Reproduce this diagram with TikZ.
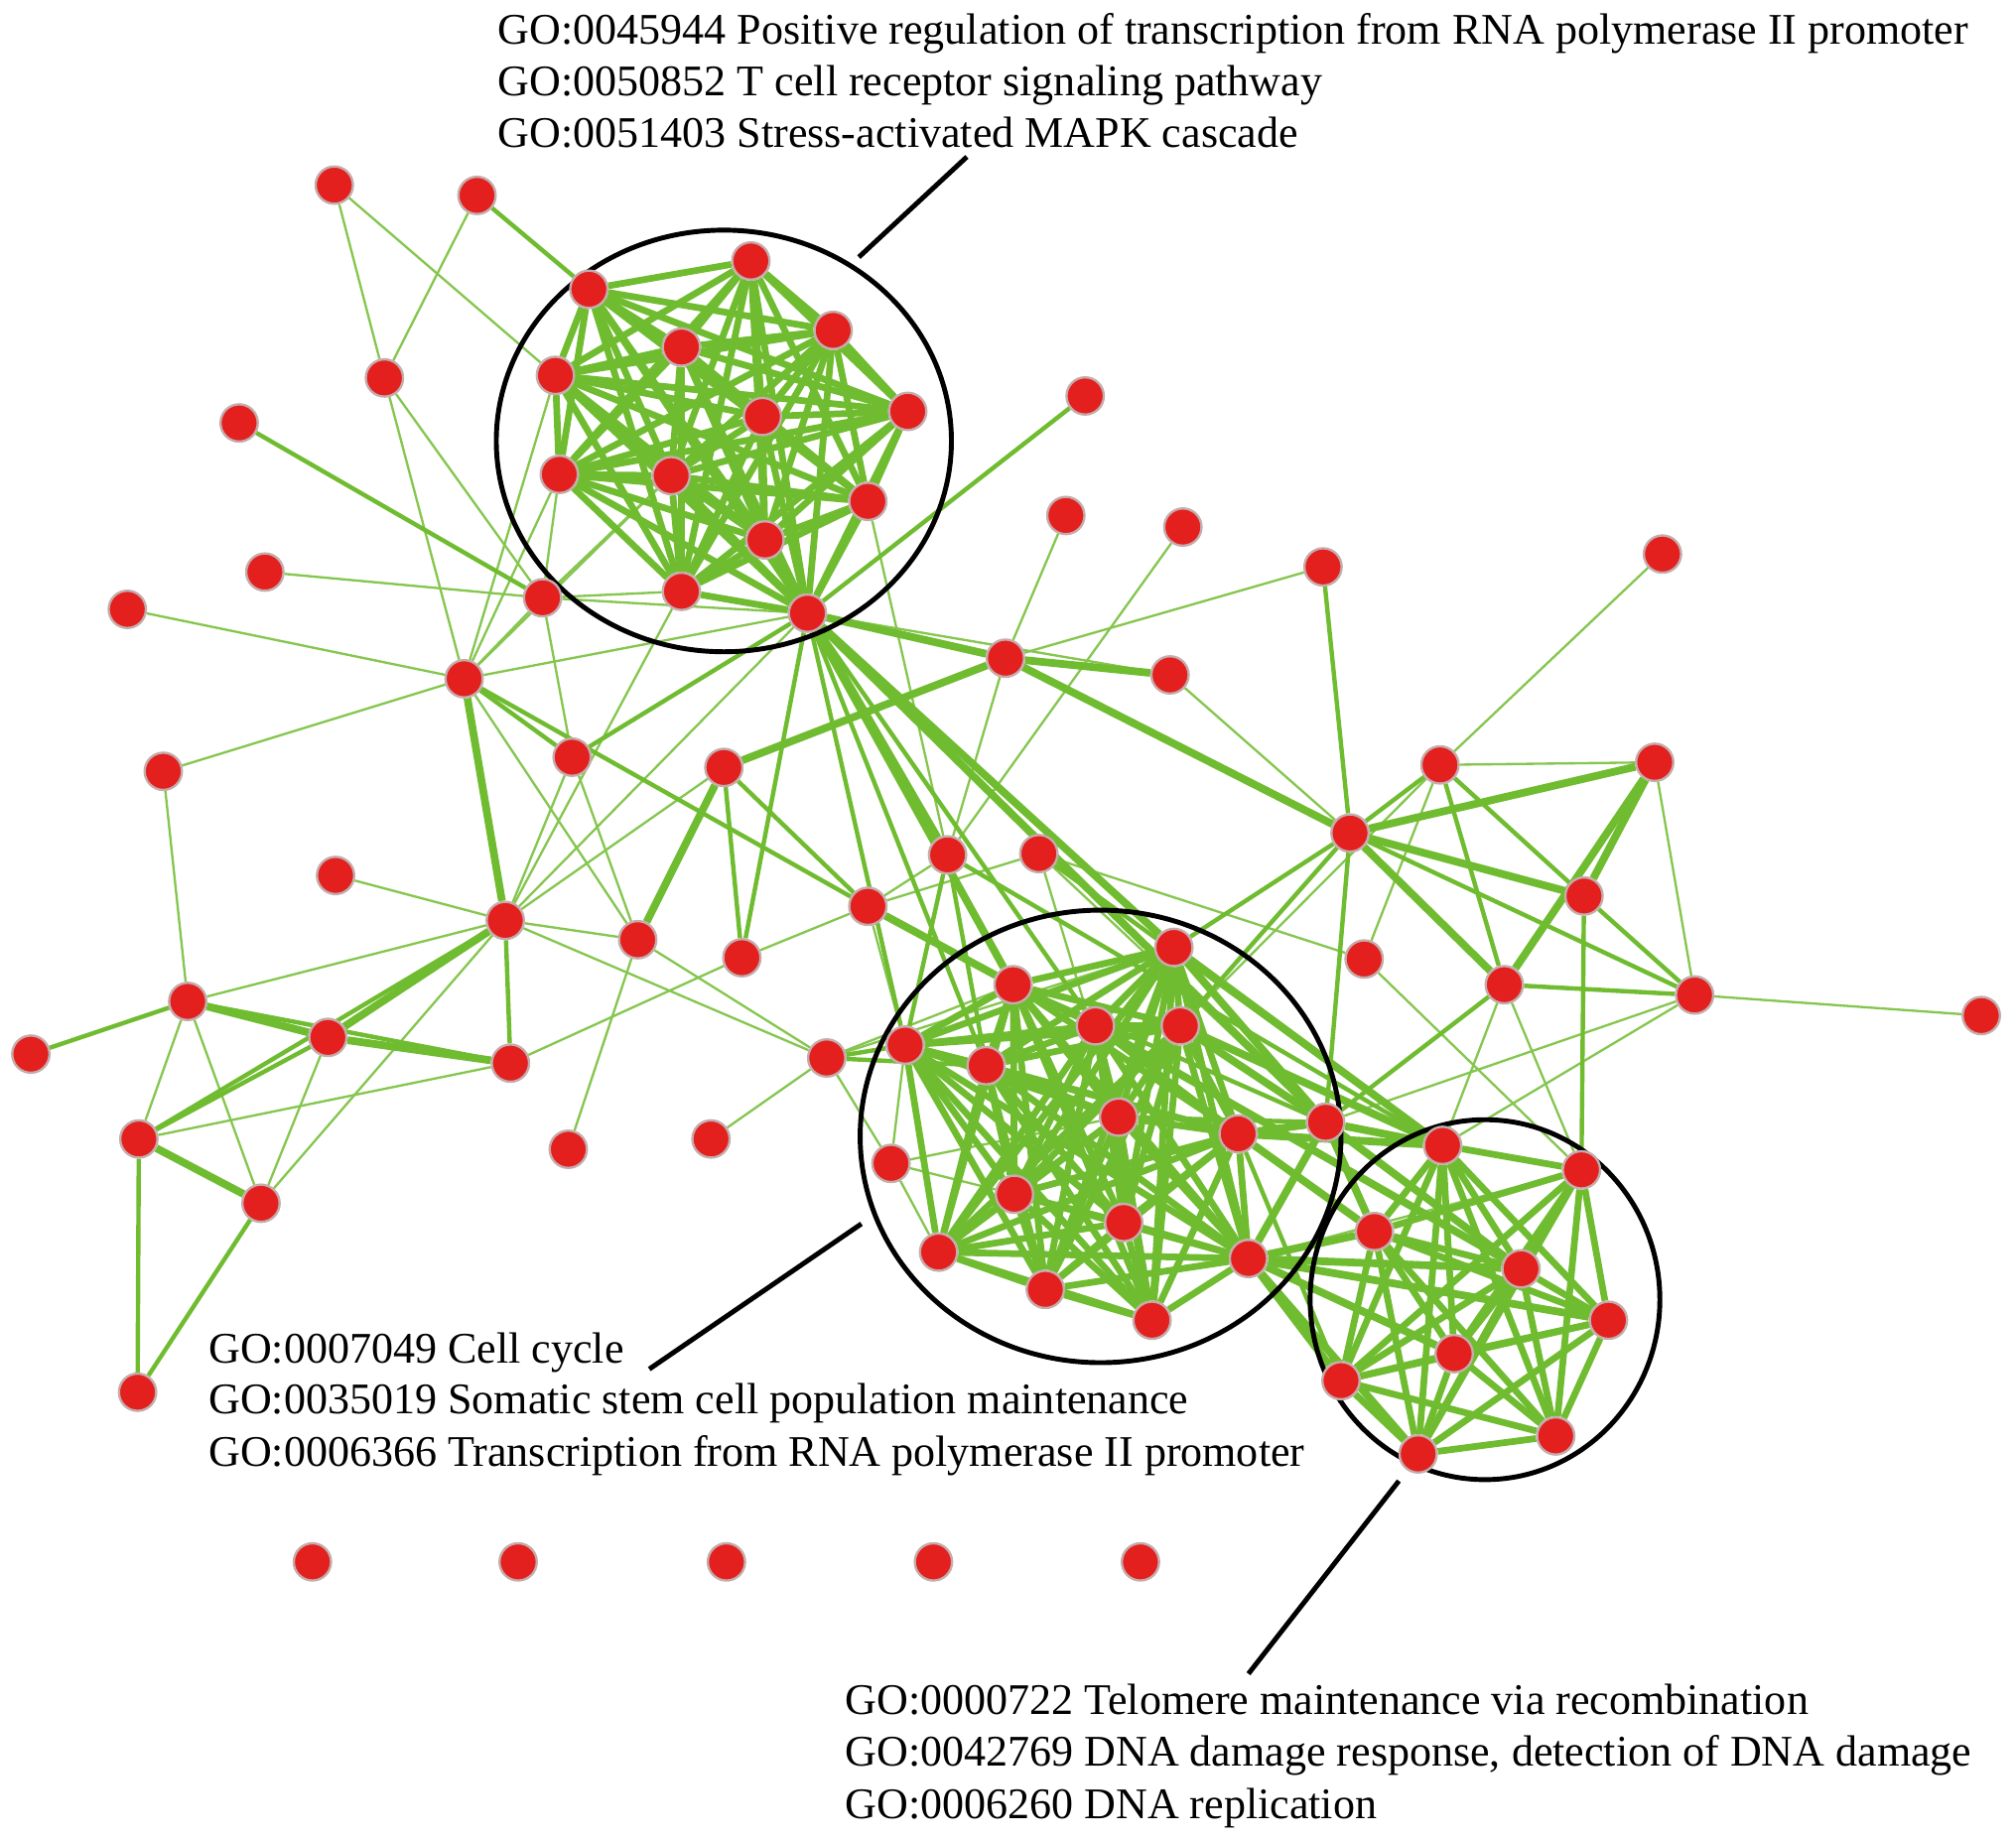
\documentclass[tikz,border=0pt]{standalone}
\usepackage{fontspec}
\setmainfont{Liberation Serif}

\definecolor{genered}{RGB}{228,32,30}
\definecolor{generim}{RGB}{196,172,172}
\definecolor{linkgreen}{RGB}{112,188,48}

\pgfdeclarelayer{links}
\pgfdeclarelayer{rings}
\pgfsetlayers{links,rings,main}

\tikzset{every picture/.style={line width=0.75pt}}
\tikzset{
  gene/.style={circle, fill=genered, draw=generim, line width=0.9pt, minimum size=14.5pt, inner sep=0pt},
  thin link/.style={draw=linkgreen!85, line width=0.9pt},
  mid link/.style={draw=linkgreen, line width=1.7pt},
  thick link/.style={draw=linkgreen, line width=3pt},
  core link/.style={draw=linkgreen, line width=2.6pt},
  ring/.style={draw=black, line width=1.9pt},
  golabel/.style={anchor=base west, inner sep=0pt, font=\fontsize{17}{20}\selectfont},
}

\def\clusterA{a1,a2,a3,a4,a5,a6,a7,a8,a9,a10,a11,a12,a13}
\def\clusterB{n43,n45,n54,n55,n56,n57,n58,n59,n68,n69,n71,n72,n74,n75}
\def\clusterC{n65,n66,n70,n73,n76,n77,n78,n80,n81}

\begin{document}
\begin{tikzpicture}[x=0.5pt,y=0.5pt,yscale=-1,xscale=1]
  \useasboundingbox (0,0) rectangle (1568,1431);

  %Genes, upper left
  \node[gene] (p1) at (260,144) {};
  \node[gene] (p2) at (371,152) {};
  \node[gene] (p3) at (299,294) {};
  \node[gene] (p4) at (186,329) {};
  \node[gene] (p5) at (206,445) {};
  \node[gene] (p6) at (99,474) {};
  \node[gene] (p7) at (422,465) {};
  \node[gene] (p8) at (361,528) {};
  %Genes, upper cluster
  \node[gene] (a1) at (458,225) {};
  \node[gene] (a2) at (584,203) {};
  \node[gene] (a3) at (648,257) {};
  \node[gene] (a4) at (530,270) {};
  \node[gene] (a5) at (432,292) {};
  \node[gene] (a6) at (593,324) {};
  \node[gene] (a7) at (706,320) {};
  \node[gene] (a8) at (435,369) {};
  \node[gene] (a9) at (522,370) {};
  \node[gene] (a10) at (675,390) {};
  \node[gene] (a11) at (595,420) {};
  \node[gene] (a12) at (530,460) {};
  \node[gene] (a13) at (628,477) {};
  %Genes, the rest
  \node[gene] (n12) at (844,308) {};
  \node[gene] (n17) at (829,401) {};
  \node[gene] (n18) at (920,410) {};
  \node[gene] (n19) at (1029,441) {};
  \node[gene] (n20) at (1293,431) {};
  \node[gene] (n26) at (782,512) {};
  \node[gene] (n27) at (910,525) {};
  \node[gene] (n29) at (445,589) {};
  \node[gene] (n30) at (563,597) {};
  \node[gene] (n31) at (127,600) {};
  \node[gene] (n32) at (1120,595) {};
  \node[gene] (n33) at (1287,593) {};
  \node[gene] (n34) at (1050,648) {};
  \node[gene] (n35) at (737,665) {};
  \node[gene] (n36) at (808,664) {};
  \node[gene] (n37) at (261,681) {};
  \node[gene] (n38) at (675,705) {};
  \node[gene] (n39) at (1232,697) {};
  \node[gene] (n40) at (393,716) {};
  \node[gene] (n41) at (496,731) {};
  \node[gene] (n42) at (577,745) {};
  \node[gene] (n43) at (913,737) {};
  \node[gene] (n44) at (1061,746) {};
  \node[gene] (n45) at (788,766) {};
  \node[gene] (n46) at (1170,766) {};
  \node[gene] (n47) at (1318,774) {};
  \node[gene] (n48) at (1541,790) {};
  \node[gene] (n49) at (146,779) {};
  \node[gene] (n50) at (24,820) {};
  \node[gene] (n51) at (255,807) {};
  \node[gene] (n52) at (397,827) {};
  \node[gene] (n53) at (643,823) {};
  \node[gene] (n54) at (704,813) {};
  \node[gene] (n55) at (767,829) {};
  \node[gene] (n56) at (852,798) {};
  \node[gene] (n57) at (918,798) {};
  \node[gene] (n58) at (870,869) {};
  \node[gene] (n59) at (963,882) {};
  \node[gene] (n60) at (1031,873) {};
  \node[gene] (n61) at (108,886) {};
  \node[gene] (n62) at (442,894) {};
  \node[gene] (n63) at (553,886) {};
  \node[gene] (n64) at (693,905) {};
  \node[gene] (n65) at (1122,891) {};
  \node[gene] (n66) at (1230,910) {};
  \node[gene] (n67) at (203,936) {};
  \node[gene] (n68) at (789,929) {};
  \node[gene] (n69) at (874,951) {};
  \node[gene] (n70) at (1069,958) {};
  \node[gene] (n71) at (730,974) {};
  \node[gene] (n72) at (971,979) {};
  \node[gene] (n73) at (1183,987) {};
  \node[gene] (n74) at (813,1003) {};
  \node[gene] (n75) at (896,1027) {};
  \node[gene] (n76) at (1251,1027) {};
  \node[gene] (n77) at (1131,1053) {};
  \node[gene] (n78) at (1043,1074) {};
  \node[gene] (n79) at (107,1083) {};
  \node[gene] (n80) at (1210,1117) {};
  \node[gene] (n81) at (1103,1131) {};
  %Unlinked genes
  \foreach \k/\xx in {1/243,2/403,3/565,4/726,5/887}
    \node[gene] (s\k) at (\xx,1215) {};

  \begin{pgfonlayer}{links}
    %thin links
    \foreach \u/\v in {p1/p3,p1/a5,p2/p3,p3/p7,p3/p8,p5/p7,p6/p8,a5/p8,a8/p8,a8/p7,p7/a12,p7/a9,p7/a13,p7/n29,p7/p8,
      p8/n31,p8/n41,p8/a9,p8/a13,n31/n49,n37/n40,n40/n49,n40/n67,n40/n29,n40/n41,n40/n30,n40/n53,n40/a13,n40/a12,
      n49/n61,n49/n67,n51/n67,n61/n52,n62/n41,n63/n53,n41/n53,n42/n52,n29/n41,
      n38/n35,n38/n36,n38/n42,n38/n54,n35/n18,n35/n26,n35/a10,n36/n58,n36/n44,n36/n60,
      n17/n26,n19/n26,n20/n32,n27/n34,a13/n27,n32/n33,n32/n44,n32/n57,n33/n47,n47/n48,n47/n65,n47/n60,
      n44/n66,n46/n66,n46/n65,n64/n54,n64/n71,n64/n53,n64/n68,n64/n58,n53/n43,n53/n45,n66/n72}
      \draw[thin link] (\u) -- (\v);
    %medium links
    \foreach \u/\v in {p2/a1,p4/p7,p8/n38,p8/n29,n49/n50,n49/n52,n40/n61,n40/n52,n61/n51,n61/n79,n67/n79,
      n12/a13,n19/n34,n32/n34,n32/n39,n32/n46,n34/n47,n34/n43,n34/n57,n34/n60,n39/n47,n39/n66,n46/n47,n46/n60,
      n29/a13,a13/n42,a13/n54,a13/n55,a13/n56,n30/n42,n30/n38,n53/n54,n53/n55,n36/n65,n35/n65,n35/n54,n35/n55,
      n59/n78,n60/n45,n60/n58}
      \draw[mid link] (\u) -- (\v);
    %heavy links
    \foreach \u/\v in {p8/n40,n40/n51,n49/n51,n51/n52,n61/n67,n41/n30,a13/n26,n26/n27,n26/n30,n26/n34,
      a13/n35,a13/n45,a13/n43,a13/n60,n34/n33,n34/n39,n34/n46,n33/n46,n33/n39,n38/n45,
      n72/n78,n72/n81,n72/n73,n72/n76,n72/n70,n72/n77,n60/n65,n60/n73,n60/n70,n59/n65,n59/n70,
      n57/n65,n43/n65,n56/n73,n60/n43,n60/n57,n60/n59,n60/n72}
      \draw[thick link] (\u) -- (\v);
    %clusters, every pair linked
    \foreach \x [count=\i] in \clusterA {
      \foreach \y [count=\j] in \clusterA {
        \ifnum\j>\i \draw[core link] (\x) -- (\y); \fi
      }
    }
    \foreach \x [count=\i] in \clusterB {
      \foreach \y [count=\j] in \clusterB {
        \ifnum\j>\i \draw[core link] (\x) -- (\y); \fi
      }
    }
    \foreach \x [count=\i] in \clusterC {
      \foreach \y [count=\j] in \clusterC {
        \ifnum\j>\i \draw[core link] (\x) -- (\y); \fi
      }
    }
  \end{pgfonlayer}

  \begin{pgfonlayer}{rings}
    %Rings round the clusters
    \draw[ring] (563,343) ellipse [x radius=177, y radius=164];
    \draw[ring] (856,884) ellipse [x radius=187, y radius=176];
    \draw[ring] (1155,1011) ellipse [x radius=136, y radius=140];
  \end{pgfonlayer}

  %Leader lines
  \coordinate (ringA) at (668,200);
  \coordinate (tagA) at (752,122);
  \coordinate (ringB) at (670,952);
  \coordinate (tagB) at (505,1065);
  \coordinate (ringC) at (1088,1152);
  \coordinate (tagC) at (971,1302);
  \draw[ring] (ringA) -- (tagA);
  \draw[ring] (ringB) -- (tagB);
  \draw[ring] (ringC) -- (tagC);

  % Text Node
  \node[golabel] (goA1) at (387,34) {GO:0045944 Positive regulation of transcription from RNA polymerase II promoter};
  \node[golabel] (goA2) at (387,74.5) {GO:0050852 T cell receptor signaling pathway};
  \node[golabel] (goA3) at (387,115) {GO:0051403 Stress-activated MAPK cascade};
  % Text Node
  \node[golabel] (goB1) at (162,1060) {GO:0007049 Cell cycle};
  \node[golabel] (goB2) at (162,1100) {GO:0035019 Somatic stem cell population maintenance};
  \node[golabel] (goB3) at (162,1141) {GO:0006366 Transcription from RNA polymerase II promoter};
  % Text Node
  \node[golabel] (goC1) at (657,1334) {GO:0000722 Telomere maintenance via recombination};
  \node[golabel] (goC2) at (657,1374) {GO:0042769 DNA damage response, detection of DNA damage};
  \node[golabel] (goC3) at (657,1415) {GO:0006260 DNA replication};
\end{tikzpicture}
\end{document}
